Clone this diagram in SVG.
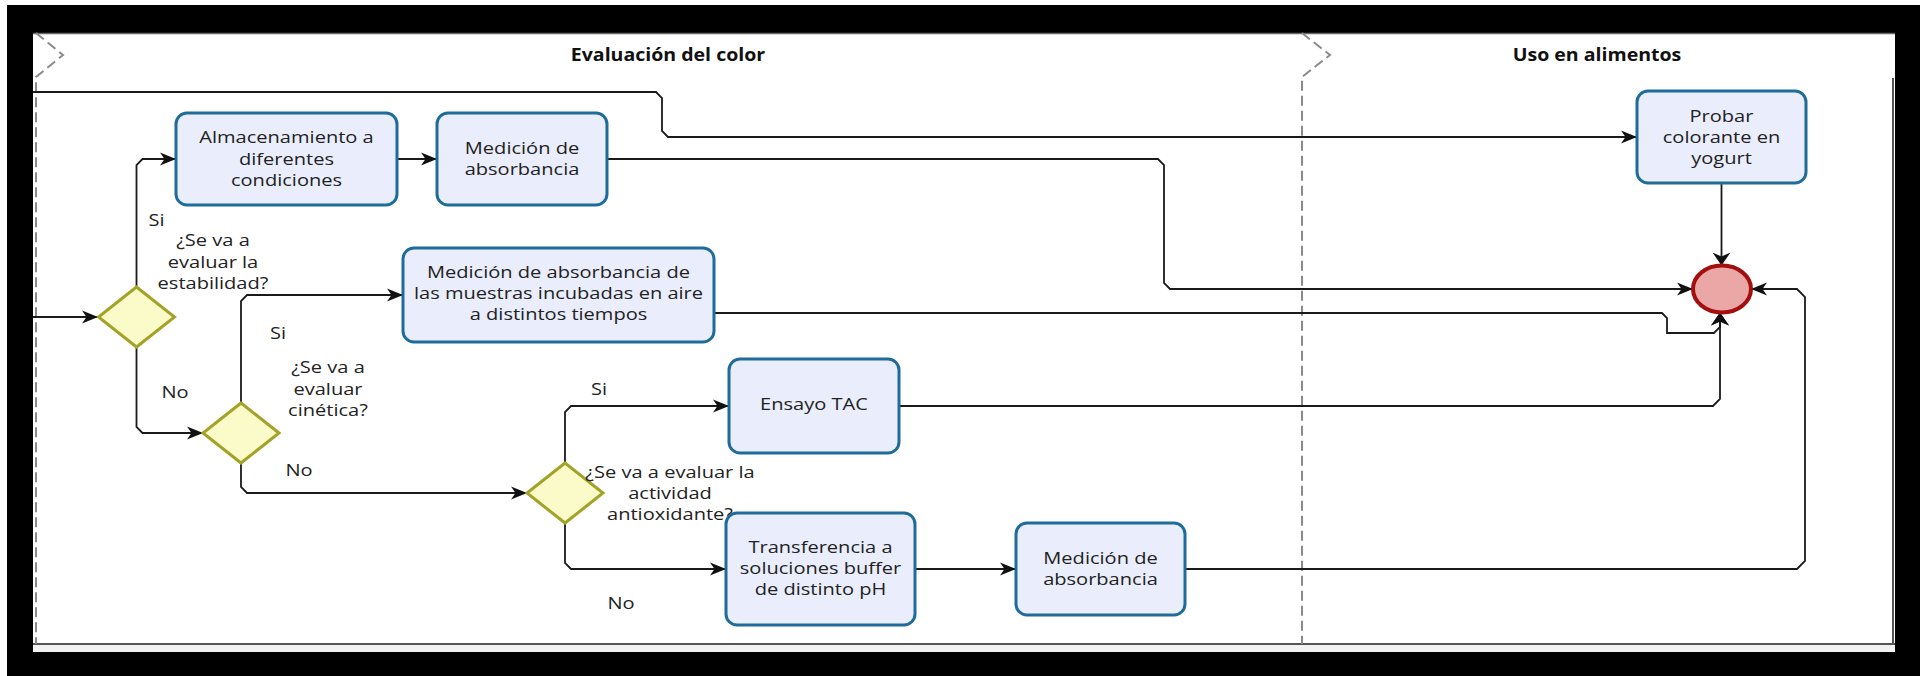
<svg xmlns="http://www.w3.org/2000/svg" width="1926" height="676" viewBox="0 0 1926 676">
<defs>
<style>
.box{fill:#EAEEFC;stroke:#1F6C9A;stroke-width:3}
.gw{fill:#FBFBC9;stroke:#A3A328;stroke-width:3}
.end{fill:#EBA6A6;stroke:#A30E0E;stroke-width:4}
.c{fill:none;stroke:#1a1a1a;stroke-width:1.8}
.ch{marker-end:url(#ah)}
.cv{marker-end:url(#av)}
.lane{fill:none;stroke:#8a8a8a;stroke-width:2;stroke-dasharray:10 5}
.t{font-family:"Open Sans","Noto Sans","Liberation Sans",sans-serif;font-size:17px;fill:#222;text-anchor:middle}
.h{font-family:"Open Sans","Noto Sans","Liberation Sans",sans-serif;font-size:17px;font-weight:bold;fill:#111;text-anchor:middle}
</style>
<marker id="ah" markerUnits="userSpaceOnUse" markerWidth="18" markerHeight="16" viewBox="0 -8 17 16" refX="16" refY="0" orient="auto">
<path d="M0,-6.5 L16,0 L0,6.5 L4.5,0 z" fill="#111"/>
</marker>
<marker id="av" markerUnits="userSpaceOnUse" markerWidth="14" markerHeight="20" viewBox="0 -10 14 20" refX="13" refY="0" orient="auto">
<path d="M0,-9 L13,0 L0,9 L4,0 z" fill="#111"/>
</marker>
</defs>

<g id="frame">
<rect width="1926" height="676" fill="#fff"/>
<rect x="7" y="5" width="1913" height="671" fill="#000"/>
<rect x="33" y="33" width="1862" height="619" fill="#f2f2f2"/>
<rect x="33" y="33" width="1862" height="611" fill="#fff"/>
<line x1="33" y1="33.5" x2="1895" y2="33.5" stroke="#666" stroke-width="1.5"/>
<line x1="33" y1="644" x2="1895" y2="644" stroke="#555" stroke-width="2"/>
<line x1="1893" y1="78" x2="1893" y2="644" stroke="#555" stroke-width="2"/>
</g>

<g id="lanes">
<path class="lane" d="M36,33 L63,55 L36,77 L36,644"/>
<path class="lane" d="M1302,33 L1330,55 L1302,77 L1302,644"/>
<text class="h" transform="translate(668,0) scale(1.15,1)"><tspan x="0" y="61">Evaluación del color</tspan></text>
<text class="h" transform="translate(1597,0) scale(1.15,1)"><tspan x="0" y="61">Uso en alimentos</tspan></text>
</g>

<g id="connectors">
<path class="c ch" d="M33,317 H98"/>
<path class="c ch" d="M136.5,287 V165 L142.5,159 H176"/>
<path class="c ch" d="M397,159 H437"/>
<path class="c ch" d="M607,159 H1158 L1164,165 V283 L1170,289 H1693"/>
<path class="c ch" d="M33,92 H656 L662,98 V131 L668,137 H1637"/>
<path class="c cv" d="M1721.5,183 V265.5"/>
<path class="c ch" d="M136.5,347 V427 L142.5,433 H203"/>
<path class="c ch" d="M241,403 V301 L247,295 H403"/>
<path class="c cv" d="M714,313 H1662 L1667,318 V333 H1714 L1720,327 V312.5"/>
<path class="c cv" d="M899,406 H1713 L1720,399 V312.5"/>
<path class="c ch" d="M241,463 V487 L247,493 H527"/>
<path class="c ch" d="M565,463 V412 L571,406 H729"/>
<path class="c ch" d="M565,523 V563 L571,569 H726"/>
<path class="c ch" d="M915,569 H1016"/>
<path class="c ch" d="M1185,569 H1797 L1805,561 V297 L1797,289 H1751"/>
</g>

<g id="labels">
<text class="t" transform="translate(156.5,0) scale(1.18,1)"><tspan x="0" y="226">Si</tspan></text>
<text class="t" transform="translate(278,0) scale(1.18,1)"><tspan x="0" y="339">Si</tspan></text>
<text class="t" transform="translate(175,0) scale(1.18,1)"><tspan x="0" y="398">No</tspan></text>
<text class="t" transform="translate(299,0) scale(1.18,1)"><tspan x="0" y="476">No</tspan></text>
<text class="t" transform="translate(599,0) scale(1.18,1)"><tspan x="0" y="395">Si</tspan></text>
<text class="t" transform="translate(621,0) scale(1.18,1)"><tspan x="0" y="609">No</tspan></text>
</g>

<g id="gw1">
<polygon class="gw" points="136.5,287 174.5,317 136.5,347 98.5,317"/>
<text class="t" transform="translate(213,0) scale(1.18,1)"><tspan x="0" y="246">¿Se va a</tspan><tspan x="0" y="268">evaluar la</tspan><tspan x="0" y="289">estabilidad?</tspan></text>
</g>

<g id="gw2">
<polygon class="gw" points="241,403 279,433 241,463 203,433"/>
<text class="t" transform="translate(328,0) scale(1.18,1)"><tspan x="0" y="373">¿Se va a</tspan><tspan x="0" y="395">evaluar</tspan><tspan x="0" y="416">cinética?</tspan></text>
</g>

<g id="gw3">
<polygon class="gw" points="565,463 603,493 565,523 527,493"/>
<text class="t" transform="translate(670,0) scale(1.18,1)"><tspan x="0" y="478">¿Se va a evaluar la</tspan><tspan x="0" y="499">actividad</tspan><tspan x="0" y="520">antioxidante?</tspan></text>
</g>

<g id="almacenamiento">
<rect class="box" x="176" y="113" width="221" height="92" rx="11"/>
<text class="t" transform="translate(286.5,0) scale(1.18,1)"><tspan x="0" y="143">Almacenamiento a</tspan><tspan x="0" y="165">diferentes</tspan><tspan x="0" y="186">condiciones</tspan></text>
</g>

<g id="medicion1">
<rect class="box" x="437" y="113" width="170" height="92" rx="11"/>
<text class="t" transform="translate(522,0) scale(1.18,1)"><tspan x="0" y="154">Medición de</tspan><tspan x="0" y="175">absorbancia</tspan></text>
</g>

<g id="medicion2">
<rect class="box" x="403" y="248" width="311" height="94" rx="11"/>
<text class="t" transform="translate(558.5,0) scale(1.18,1)"><tspan x="0" y="278">Medición de absorbancia de</tspan><tspan x="0" y="299">las muestras incubadas en aire</tspan><tspan x="0" y="320">a distintos tiempos</tspan></text>
</g>

<g id="tac">
<rect class="box" x="729" y="359" width="170" height="94" rx="11"/>
<text class="t" transform="translate(814,0) scale(1.18,1)"><tspan x="0" y="410">Ensayo TAC</tspan></text>
</g>

<g id="transferencia">
<rect class="box" x="726" y="513" width="189" height="112" rx="11"/>
<text class="t" transform="translate(820.5,0) scale(1.18,1)"><tspan x="0" y="553">Transferencia a</tspan><tspan x="0" y="574">soluciones buffer</tspan><tspan x="0" y="595">de distinto pH</tspan></text>
</g>

<g id="medicion3">
<rect class="box" x="1016" y="523" width="169" height="92" rx="11"/>
<text class="t" transform="translate(1100.5,0) scale(1.18,1)"><tspan x="0" y="564">Medición de</tspan><tspan x="0" y="585">absorbancia</tspan></text>
</g>

<g id="probar">
<rect class="box" x="1637" y="91" width="169" height="92" rx="11"/>
<text class="t" transform="translate(1721.5,0) scale(1.18,1)"><tspan x="0" y="122">Probar</tspan><tspan x="0" y="143">colorante en</tspan><tspan x="0" y="164">yogurt</tspan></text>
</g>

<g id="end">
<ellipse class="end" cx="1722" cy="289" rx="29" ry="23.5"/>
</g>
</svg>
